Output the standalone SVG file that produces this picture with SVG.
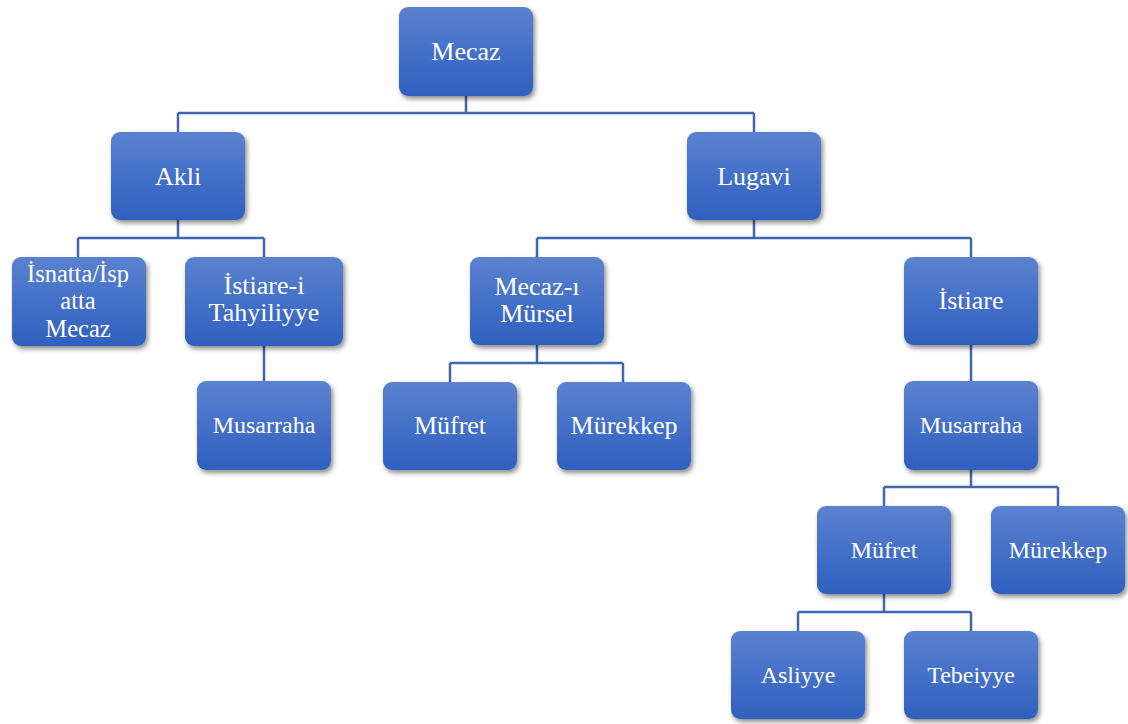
<svg xmlns="http://www.w3.org/2000/svg" width="1128" height="724" viewBox="0 0 1128 724">
<defs>
<linearGradient id="g" x1="0" y1="0" x2="0" y2="1">
<stop offset="0" stop-color="#5b82cf"/>
<stop offset="0.5" stop-color="#4470c8"/>
<stop offset="1" stop-color="#2f60be"/>
</linearGradient>
<filter id="sh" x="-20%" y="-20%" width="150%" height="150%">
<feDropShadow dx="2" dy="3" stdDeviation="2.5" flood-color="#000" flood-opacity="0.45"/>
</filter>
</defs>
<style>
.n rect{fill:url(#g);filter:url(#sh)}
.n text{font-family:"Liberation Serif","Times New Roman",serif;fill:#fff;font-size:26px;text-anchor:middle}
.s text{font-size:24px}
.n text.t{font-size:24.5px}
.c{fill:none;stroke:#3f67b0;stroke-width:2.5}
</style>
<rect width="1128" height="724" fill="#fff"/>
<g id="connectors">
<path class="c" d="M466 96V113M178 113H754M178 113V132M754 113V132"/>
<path class="c" d="M178 220V238M78 238H264M78 238V257M264 238V257"/>
<path class="c" d="M264 345V381"/>
<path class="c" d="M754 220V238M537 238H971M537 238V257M971 238V257"/>
<path class="c" d="M537 345V363M450 363H623M450 363V382M623 363V382"/>
<path class="c" d="M971 345V381"/>
<path class="c" d="M971 470V487M884 487H1058M884 487V506M1058 487V506"/>
<path class="c" d="M884 594V612M798 612H971M798 612V631M971 612V631"/>
</g>
<g id="mecaz" class="n"><rect x="399" y="7" width="134" height="89" rx="9"/><text x="466" y="60">Mecaz</text></g>
<g id="akli" class="n"><rect x="111" y="132" width="134" height="88" rx="9"/><text x="178" y="185">Akli</text></g>
<g id="lugavi" class="n"><rect x="687" y="132" width="134" height="88" rx="9"/><text x="754" y="185">Lugavi</text></g>
<g id="isnatta" class="n"><rect x="12" y="257" width="134" height="89" rx="9"/><text class="t" x="78" y="281.5">İsnatta/İsp</text><text class="t" x="78" y="309">atta</text><text class="t" x="78" y="336.5">Mecaz</text></g>
<g id="istiare-i" class="n"><rect x="185" y="257" width="158" height="89" rx="9"/><text x="264" y="294">İstiare-i</text><text x="264" y="321">Tahyiliyye</text></g>
<g id="musarraha1" class="n s"><rect x="197" y="381" width="134" height="89" rx="9"/><text x="264" y="433">Musarraha</text></g>
<g id="mecaz-i-mursel" class="n"><rect x="470" y="257" width="134" height="88" rx="9"/><text x="537" y="295">Mecaz-ı</text><text x="537" y="322">Mürsel</text></g>
<g id="mufret1" class="n"><rect x="383" y="382" width="134" height="88" rx="9"/><text x="450" y="434">Müfret</text></g>
<g id="murekkep1" class="n"><rect x="557" y="382" width="134" height="88" rx="9"/><text x="624" y="434">Mürekkep</text></g>
<g id="istiare" class="n"><rect x="904" y="257" width="134" height="88" rx="9"/><text x="971" y="309">İstiare</text></g>
<g id="musarraha2" class="n s"><rect x="904" y="381" width="134" height="89" rx="9"/><text x="971" y="433">Musarraha</text></g>
<g id="mufret2" class="n s"><rect x="817" y="506" width="134" height="88" rx="9"/><text x="884" y="558">Müfret</text></g>
<g id="murekkep2" class="n s"><rect x="991" y="506" width="134" height="88" rx="9"/><text x="1058" y="558">Mürekkep</text></g>
<g id="asliyye" class="n s"><rect x="731" y="631" width="134" height="88" rx="9"/><text x="798" y="683">Asliyye</text></g>
<g id="tebeiyye" class="n s"><rect x="904" y="631" width="134" height="88" rx="9"/><text x="971" y="683">Tebeiyye</text></g>
</svg>
